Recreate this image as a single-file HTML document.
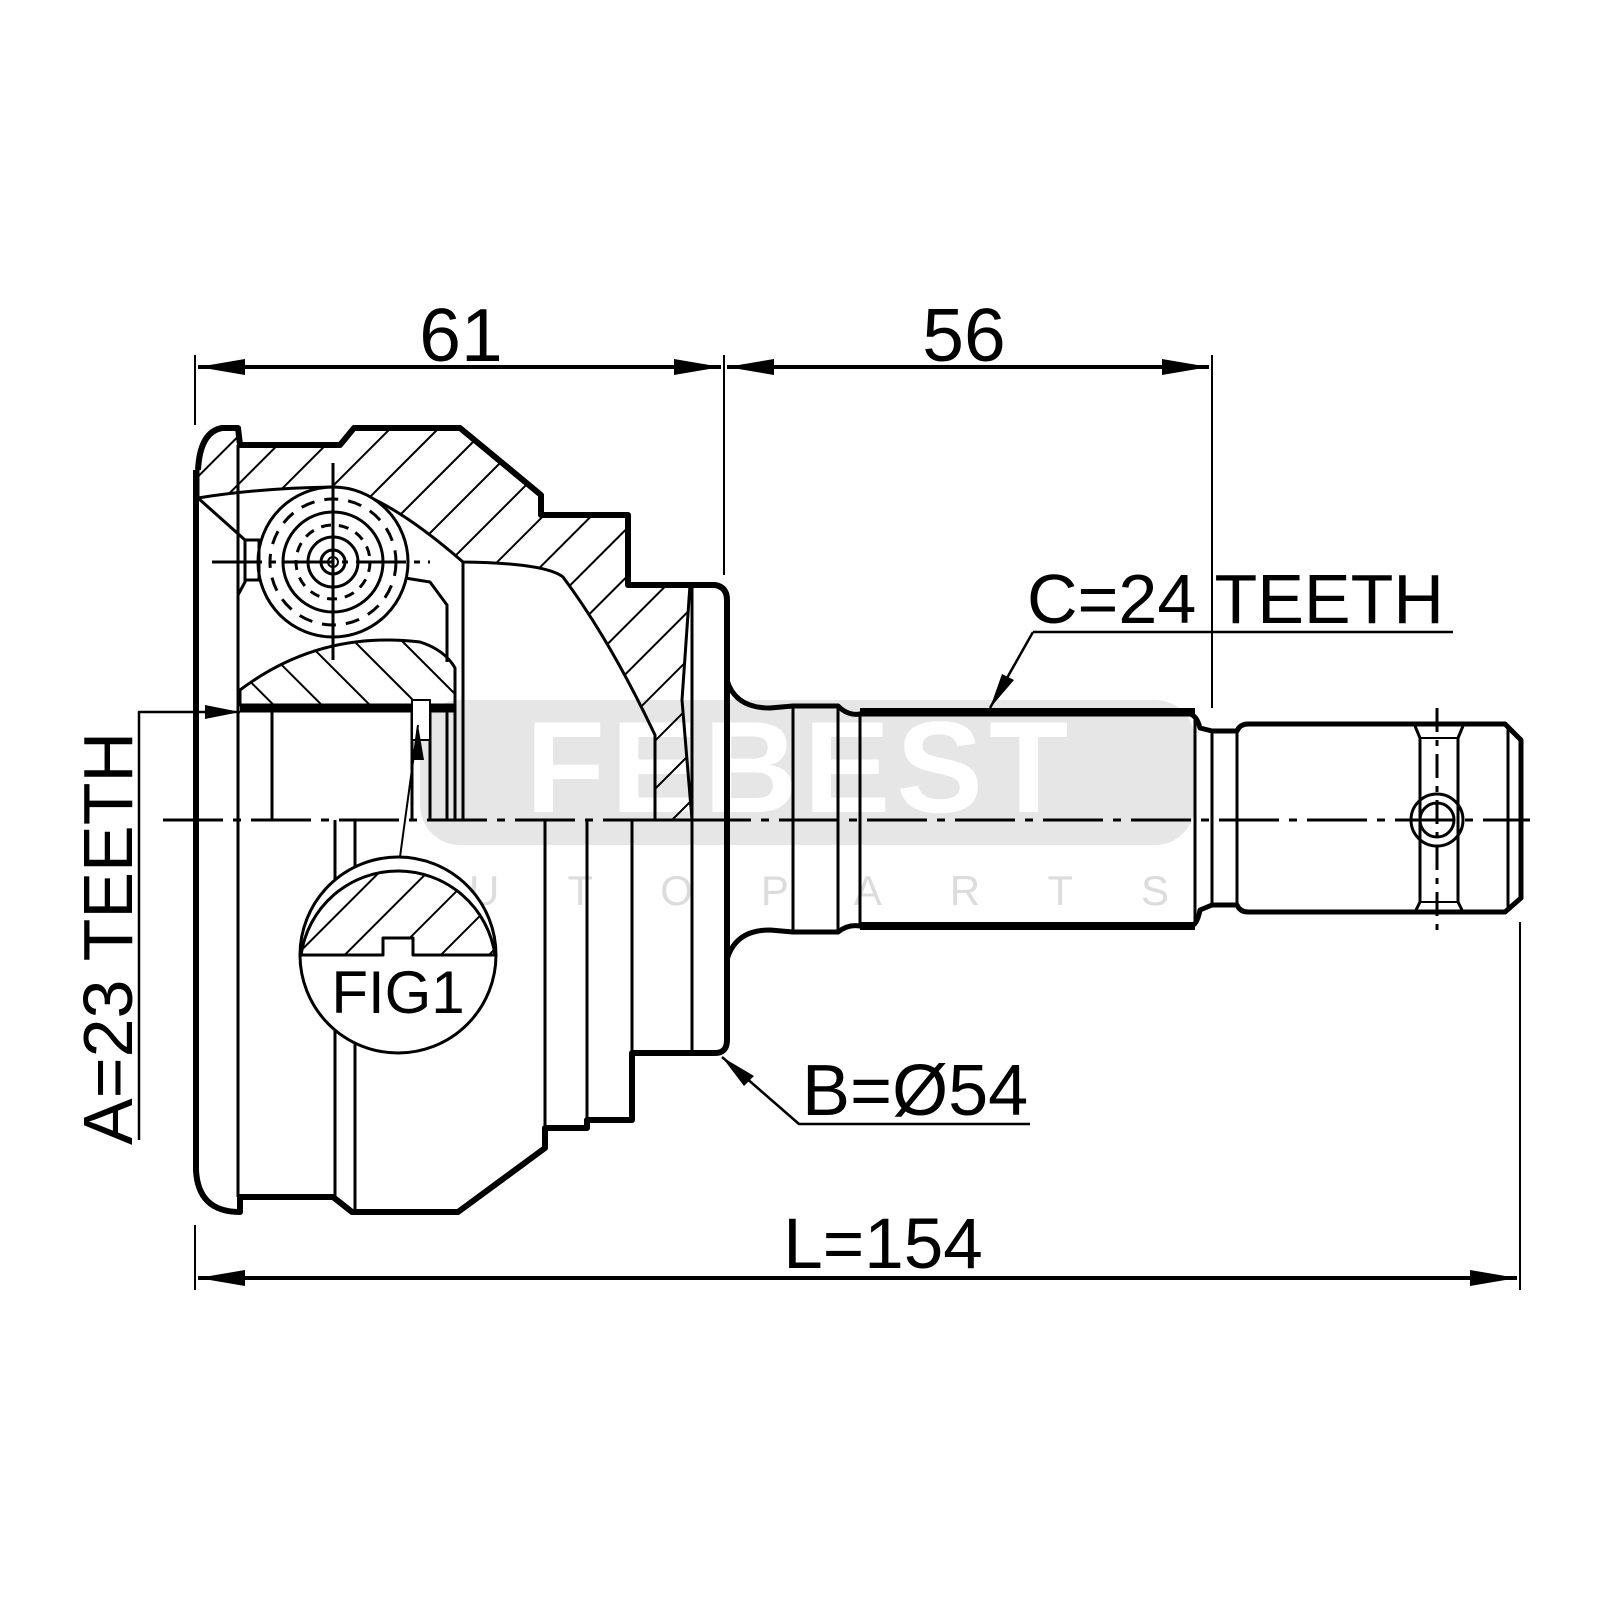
<!DOCTYPE html>
<html><head><meta charset="utf-8"><style>
html,body{margin:0;padding:0;background:#fff;}
svg{display:block;}
text{font-family:"Liberation Sans",Arial,sans-serif;}
</style></head><body>
<svg width="1600" height="1600" viewBox="0 0 1600 1600" xmlns="http://www.w3.org/2000/svg">
<defs>
<pattern id="h1" patternUnits="userSpaceOnUse" width="34" height="34" patternTransform="rotate(45)">
<line x1="0" y1="0" x2="0" y2="34" stroke="#000" stroke-width="4"/></pattern>
<pattern id="h2" patternUnits="userSpaceOnUse" width="34" height="34" patternTransform="rotate(-45)">
<line x1="0" y1="0" x2="0" y2="34" stroke="#000" stroke-width="4"/></pattern>
</defs>

<!-- watermark -->
<rect x="420" y="700" width="775" height="145" rx="40" fill="#e6e6e6"/>
<text x="800" y="812" font-size="130" font-weight="bold" fill="#fff" text-anchor="middle" letter-spacing="6">FEBEST</text>
<text x="805" y="905" font-size="42" fill="#dcdcdc" text-anchor="middle" letter-spacing="68">AUTOPARTS</text>

<g fill="none" stroke="#000" stroke-linejoin="round">
<path d="M198,470 Q200,432 222,428 L238,428 L240,445 L340,445 L354,428 L460,428 L541,495 L541,515 L628,515 L628,585 L690,585 L682,700 L692,820 L655,820 L655,735 Q610,640 563,577 Q545,563 463,562 Q380,490 333,487 Q260,488 198,498 Z" fill="url(#h1)" stroke-width="3"/>
<path d="M240,690 Q320,630 420,642 Q445,650 455,668 L455,705 L240,705 Z" fill="url(#h2)" stroke-width="3"/>
<circle cx="333" cy="562" r="75" fill="#fff" stroke-width="3"/>
<circle cx="333" cy="562" r="63" stroke-width="3" stroke-dasharray="14 10"/>
<circle cx="333" cy="562" r="50" stroke-width="3"/>
<circle cx="333" cy="562" r="37" stroke-width="3" stroke-dasharray="10 8"/>
<circle cx="333" cy="562" r="25" stroke-width="3"/>
<circle cx="333" cy="562" r="12" stroke-width="3"/>
<circle cx="333" cy="562" r="5" stroke-width="2"/>
<line x1="212" y1="562" x2="430" y2="562" stroke-width="3" stroke-dasharray="50 8 6 8"/>
<line x1="333" y1="463" x2="333" y2="660" stroke-width="3"/>
<path d="M198,498 L245,540 L245,582 L238,595" stroke-width="3"/>
<rect x="245" y="540" width="14" height="40" stroke-width="3"/>
<path d="M405,578 L430,582 L447,605 L447,662" stroke-width="3"/>

<path d="M198,470 Q200,432 222,428 L238,428 L240,445 L340,445 L354,428 L460,428 L541,495 L541,515 L628,515 L628,585 L715,585 Q727,587 727,600 L727,1040 Q727,1053 715,1053 L632,1053 L632,1120 L587,1120 L587,1128 L545,1128 L545,1148 L458,1212 L352,1212 L333,1197 L240,1197 L240,1212 Q198,1212 196,1170 L196,470" stroke-width="6"/>
<line x1="238" y1="445" x2="238" y2="1197" stroke-width="3"/>
<line x1="692" y1="585" x2="692" y2="1053" stroke-width="3"/>
<line x1="463" y1="562" x2="463" y2="820" stroke-width="3"/>
<line x1="240" y1="709" x2="455" y2="709" stroke-width="7"/>
<path d="M272,712 L272,820 M412,705 L412,820 M430,705 L430,820 M447,705 L447,820 M455,705 L455,820" stroke-width="3"/>
<rect x="412" y="700" width="18" height="40" stroke-width="2" fill="#fff"/>
<path d="M335,820 L335,1197 M355,820 L355,1212 M545,820 L545,1148 M587,820 L587,1128 M632,820 L632,1120" stroke-width="3"/>
<line x1="587" y1="1120" x2="632" y2="1120" stroke-width="6"/>

<path d="M727,680 Q735,708 770,708 L793,706 L838,706 Q848,716 860,714 L1190,714 Q1197,716 1200,728 L1212,731 L1237,731 Q1240,724 1248,724 L1505,724 L1521,740 L1521,898 L1505,912 L1248,912 Q1240,912 1237,905 L1212,905 L1200,910 Q1197,926 1190,926 L860,926 Q848,924 838,932 L793,932 L770,930 Q735,930 727,960" stroke-width="5"/>
<line x1="860" y1="712" x2="1195" y2="712" stroke-width="8"/>
<line x1="860" y1="926" x2="1195" y2="926" stroke-width="8"/>
<path d="M793,706 L793,932 M838,706 L838,932 M860,716 L860,926 M1195,716 L1195,926 M1212,731 L1212,905 M1237,731 L1237,905 M1508,728 L1508,910" stroke-width="3"/>
<path d="M1415,726 L1420,738 L1420,902 L1415,912 M1463,726 L1458,738 L1458,902 L1463,912" stroke-width="3"/>
<line x1="1420" y1="738" x2="1458" y2="738" stroke-width="2"/>
<line x1="1420" y1="902" x2="1458" y2="902" stroke-width="2"/>
<circle cx="1437" cy="820" r="26" stroke-width="3"/>
<circle cx="1437" cy="820" r="17" stroke-width="3"/>
<line x1="1437" y1="708" x2="1437" y2="932" stroke-width="3" stroke-dasharray="24 8 6 8"/>

<line x1="163" y1="820" x2="1530" y2="820" stroke-width="3" stroke-dasharray="60 10 8 10"/>

<circle cx="398" cy="955" r="98" fill="#fff" stroke-width="3"/>
<path d="M301,955 A98,98 0 0 1 495,955 L413,955 L413,938 L383,938 L383,955 Z" fill="url(#h1)" stroke-width="3"/>
<line x1="400" y1="857" x2="418" y2="725" stroke-width="2"/>

<path d="M195,355 L195,425 M724,355 L724,575 M1212,355 L1212,708 M195,1225 L195,1290 M1520,922 L1520,1290" stroke-width="2"/>
<path d="M198,367 L721,367 M727,367 L1209,367 M198,1278 L1517,1278" stroke-width="4"/>
<path d="M1033,632 L1453,632 M1033,632 L990,708" stroke-width="2.5"/>
<path d="M1030,1124 L799,1124 L722,1057" stroke-width="2.5"/>
<path d="M139,1140 L139,712 L240,712" stroke-width="2.5"/>
</g>

<g fill="#000">
<polygon points="198,367 245,359 245,375"/>
<polygon points="721,367 674,359 674,375"/>
<polygon points="727,367 774,359 774,375"/>
<polygon points="1209,367 1162,359 1162,375"/>
<polygon points="198,1278 245,1270 245,1286"/>
<polygon points="1517,1278 1470,1270 1470,1286"/>
<polygon points="240,712 205,705 205,719"/>
<polygon points="990,708 1014,680 1002,674"/>
<polygon points="722,1057 744,1086 754,1076"/>
<polygon points="418,725 412,760 424,760"/>
</g>

<g fill="#000">
<text x="461" y="361" font-size="75" text-anchor="middle">61</text>
<text x="964" y="361" font-size="75" text-anchor="middle">56</text>
<text x="1027" y="623" font-size="70">C=24 TEETH</text>
<text x="802" y="1115" font-size="72">B=Ø54</text>
<text x="883" y="1268" font-size="71" text-anchor="middle">L=154</text>
<text x="398" y="1013" font-size="60" text-anchor="middle">FIG1</text>
<text transform="translate(132,1145) rotate(-90)" font-size="70">A=23 TEETH</text>
</g>
</svg>
</body></html>
